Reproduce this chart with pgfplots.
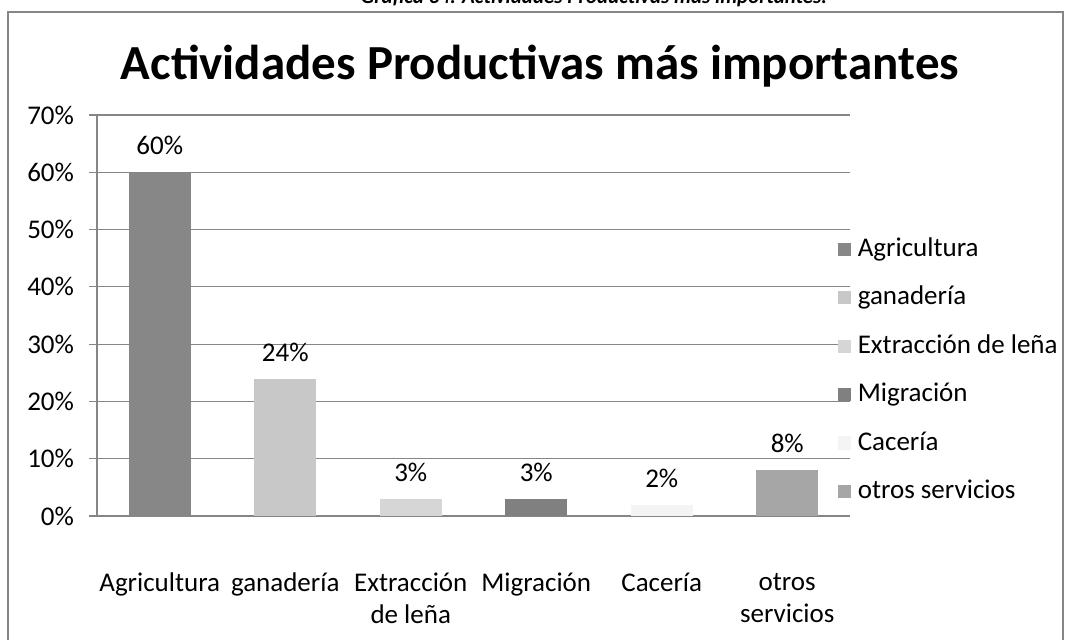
\documentclass[border=0pt]{standalone}
\usepackage{pgfplots}
\pgfplotsset{compat=1.18}
\usepackage{fontspec}
\setmainfont{Carlito}
\definecolor{gridc}{HTML}{868686}
\definecolor{cA}{HTML}{878787}
\definecolor{cB}{HTML}{C8C8C8}
\definecolor{cC}{HTML}{D6D6D6}
\definecolor{cD}{HTML}{808080}
\definecolor{cE}{HTML}{F4F4F4}
\definecolor{cF}{HTML}{A6A6A6}
\begin{document}
\begin{tikzpicture}
\begin{axis}[
  at={(48.5pt,62pt)}, anchor=south west,
  scale only axis, width=376.5pt, height=200.5pt,
  ybar, bar width=31pt,
  xmin=-0.5, xmax=5.5, ymin=0, ymax=70,
  ytick={0,10,...,70},
  xtick={0,1,2,3,4,5},
  xticklabels={Agricultura, ganader\'{\i}a, {Extracci\'on\\de le\~na}, Migraci\'on, Cacer\'{\i}a, {otros\\servicios}},
  extra x ticks={-0.5,0.5,1.5,2.5,3.5,4.5,5.5},
  extra x tick labels={},
  extra x tick style={major tick length=4pt, tick style={draw=gridc, line width=0.6pt}, tick align=outside},
  x tick style={draw=none},
  y tick style={draw=gridc, line width=0.6pt},
  major tick length=4pt,
  tick align=outside,
  ymajorgrids, grid style={draw=gridc, line width=0.6pt},
  axis line style={draw=gridc, line width=0.6pt},
  axis x line*=bottom, axis y line*=left,
  yticklabel={\pgfmathprintnumber{\tick}\%},
  /pgf/number format/assume math mode=true,
  tick label style={font=\fontsize{13.5}{15}\selectfont, text=black},
  x tick label style={align=center, yshift=-21pt, font=\fontsize{13.5}{16}\selectfont},
  y tick label style={xshift=-4pt},
  nodes near coords={\pgfmathprintnumber{\pgfplotspointmeta}\%},
  nodes near coords style={font=\fontsize{13.5}{15}\selectfont, text=black, yshift=5pt},
  legend cell align=left,
  legend image code/.code={\fill[#1] (0pt,-3.3pt) rectangle (6.6pt,3.3pt);},
  legend style={at={(0.983,0.703)}, anchor=north west, draw=none, fill=none,
    font=\fontsize{13.5}{15}\selectfont, row sep=9.2pt, inner sep=0pt,
    nodes={inner sep=1.5pt, text height=9.5pt, text depth=2.5pt},
    /tikz/every odd column/.append style={column sep=2pt}},
]
\addplot[fill=cA, draw=none, bar shift=0pt] coordinates {(0,60)};
\addplot[fill=cB, draw=none, bar shift=0pt] coordinates {(1,24)};
\addplot[fill=cC, draw=none, bar shift=0pt] coordinates {(2,3)};
\addplot[fill=cD, draw=none, bar shift=0pt] coordinates {(3,3)};
\addplot[fill=cE, draw=none, bar shift=0pt] coordinates {(4,2)};
\addplot[fill=cF, draw=none, bar shift=0pt] coordinates {(5,8)};
\legend{Agricultura, ganader\'{\i}a, Extracci\'on de le\~na, Migraci\'on, Cacer\'{\i}a, otros servicios}
\end{axis}
\draw[gridc, line width=1pt] (4pt,-5pt) -- (4pt,314pt) -- (531.5pt,314pt) -- (531.5pt,-5pt);
\node[anchor=base, font=\fontsize{24.5}{29}\selectfont\bfseries] at (270pt,280pt) {Actividades Productivas m\'as importantes};
\node[anchor=base, font=\fontsize{10.5}{12}\selectfont\bfseries\itshape] at (297pt,318.3pt) {Grafica 34: Actividades Productivas m\'as importantes.};
\pgfresetboundingbox
\useasboundingbox (0,0) rectangle (535.5pt,320pt);
\end{tikzpicture}
\end{document}
